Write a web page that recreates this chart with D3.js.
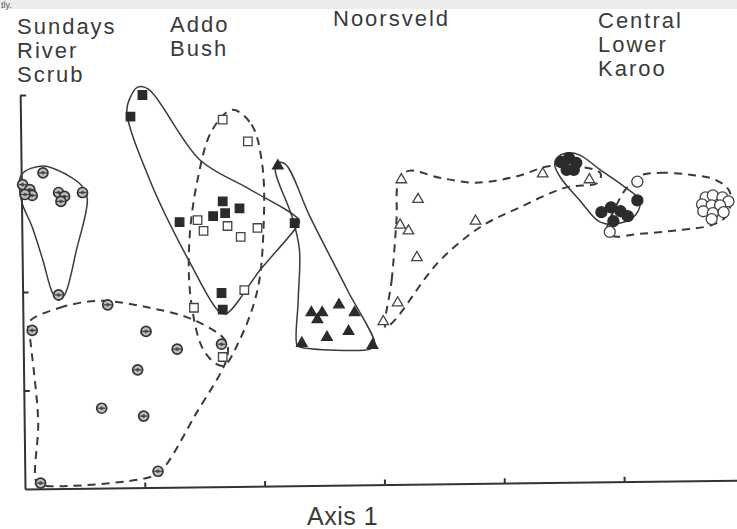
<!DOCTYPE html>
<html>
<head>
<meta charset="utf-8">
<script src="https://cdn.jsdelivr.net/npm/d3@7"></script>
<style>
  body { margin: 0; background: #fff; }
  text { font-family: "Liberation Sans", Arial, sans-serif; fill: #3a3a3a; }
</style>
</head>
<body>
<svg></svg>
<script>
let width = 737;
let height = 529;

// axis ticks, in ordination units
const xTicks = [1, 2, 3, 4, 5];
const yTicks = [1, 2, 3, 4];
const axisTitle = "Axis 1";
const regionNames = [["Sundays", "River", "Scrub"], ["Addo", "Bush"], ["Noorsveld"], ["Central", "Lower", "Karoo"]];

// Sundays River Scrub - solid envelope, hatched circles
const srsTop = [[0.15,3.21],[-0.02,3.09],[0.04,3.04],[0.06,2.98],[0.0,2.99],[0.28,3.01],[0.33,2.97],[0.30,2.92],[0.48,3.01],[0.28,1.97]];
const srsTopEdge = [[-0.03,3.19],[0.15,3.28],[0.35,3.19],[0.48,3.07],[0.52,2.94],[0.43,2.43],[0.33,1.97],[0.28,1.92],[0.23,1.99],[0.15,2.32],[0.06,2.66],[-0.03,2.93]];
// Sundays River Scrub - dashed envelope, hatched circles
const srsLow = [[0.06,1.61],[0.69,1.87],[1.01,1.60],[1.27,1.42],[0.94,1.21],[0.64,0.82],[0.99,0.74],[1.11,0.18],[0.13,0.06],[1.64,1.47]];
const srsLowEdge = [[0.03,1.69],[0.29,1.84],[0.63,1.91],[1.04,1.84],[1.40,1.72],[1.67,1.51],[1.69,1.35],[1.42,0.75],[1.14,0.19],[1.04,0.12],[0.18,0.03],[0.10,0.06],[0.11,0.70],[0.04,1.56]];

// Addo Bush - solid envelope, filled squares
const addoSolid = [[0.98,4.00],[0.88,3.78],[1.29,2.71],[1.57,2.77],[1.65,2.92],[1.67,2.80],[1.79,2.85],[1.64,1.99],[1.65,1.82],[2.25,2.70]];
const addoSolidEdge = [[0.94,4.08],[1.03,4.06],[1.46,3.34],[1.88,3.04],[2.29,2.72],[2.26,2.65],[1.96,2.22],[1.68,1.78],[1.62,1.80],[1.38,2.29],[1.04,3.14],[0.85,3.83],[0.88,3.98]];
// Addo Bush - dashed envelope, open squares
const addoOpen = [[1.65,3.75],[1.86,3.53],[1.44,2.73],[1.49,2.62],[1.69,2.67],[1.80,2.56],[1.94,2.65],[1.83,2.02],[1.41,1.84],[1.65,1.34]];
const addoOpenEdge = [[1.73,3.85],[1.89,3.70],[1.98,3.29],[1.99,2.63],[1.94,2.02],[1.79,1.51],[1.65,1.25],[1.50,1.39],[1.39,1.87],[1.37,2.48],[1.44,3.14],[1.56,3.64]];

// Noorsveld - solid envelope, filled triangles
const noorSolid = [[2.11,3.28],[2.39,1.79],[2.48,1.79],[2.44,1.72],[2.62,1.87],[2.75,1.79],[2.52,1.54],[2.70,1.60],[2.31,1.48],[2.90,1.46]];
const noorSolidEdge = [[2.10,3.31],[2.17,3.30],[2.38,2.76],[2.69,2.02],[2.92,1.46],[2.88,1.42],[2.30,1.44],[2.27,1.46],[2.28,1.92],[2.29,2.43],[2.23,2.76],[2.09,3.22]];
// Noorsveld - dashed envelope, open triangles
const noorOpen = [[3.14,3.14],[3.28,2.94],[3.13,2.68],[3.20,2.62],[3.27,2.35],[3.11,1.89],[2.99,1.70],[3.76,2.72],[4.32,3.20],[4.71,3.14]];
const noorOpenEdge = [[3.01,1.64],[3.06,2.12],[3.10,2.73],[3.12,3.14],[3.20,3.23],[3.46,3.16],[3.76,3.11],[4.09,3.17],[4.40,3.28],[4.80,3.21],[4.78,3.11],[4.51,3.06],[4.13,2.86],[3.80,2.66],[3.44,2.29],[3.09,1.72]];

// Central Lower Karoo - solid envelope, filled circles
const karooSolid = [[4.47,3.32],[4.54,3.36],[4.60,3.31],[4.52,3.24],[4.58,3.24],[4.81,2.81],[4.89,2.86],[4.97,2.82],[5.03,2.77],[4.91,2.72],[5.11,2.93]];
const karooSolidEdge = [[4.44,3.36],[4.52,3.41],[4.63,3.39],[4.80,3.24],[5.00,3.07],[5.13,2.93],[5.10,2.79],[4.97,2.70],[4.80,2.71],[4.63,2.93],[4.47,3.16],[4.42,3.29]];
// Central Lower Karoo - dashed envelope, open circles
const karooOpen = [[5.11,3.12],[4.88,2.61],[5.68,2.96],[5.74,2.98],[5.82,2.96],[5.87,2.92],[5.65,2.89],[5.73,2.88],[5.80,2.88],[5.66,2.82],[5.74,2.80],[5.83,2.81],[5.73,2.74]];
const karooOpenEdge = [[5.13,3.18],[5.30,3.21],[5.55,3.19],[5.76,3.14],[5.88,3.02],[5.86,2.78],[5.73,2.68],[5.47,2.63],[5.13,2.59],[4.90,2.57],[4.86,2.65],[4.92,2.84],[5.01,3.04]];

let svg = d3.select('svg').attr('width', width).attr('height', height);

let xScale = d3.scaleLinear().domain([0, 6]).range([25, 744]);
let yScale = d3.scaleLinear().domain([0, 4]).range([489, 95]);

// scan band at the very top
svg.append('rect').attr('x', 0).attr('y', 0).attr('width', width).attr('height', 9).attr('fill', '#ececec');
svg.append('text').attr('x', 1).attr('y', 8).style('font-size', '9px').style('fill', '#555').text('tly.');

// axes - the scanned page is tilted a little
let axes = svg.append('g').attr('transform', 'rotate(-0.7, 25, 489)');
axes.append('g')
    .attr('transform', 'translate(0, 489)')
    .call(d3.axisBottom(xScale).tickValues(xTicks).tickSize(-5).tickSizeOuter(0).tickFormat(''));
axes.append('g')
    .attr('transform', 'translate(25, 0)')
    .call(d3.axisLeft(yScale).tickValues(yTicks).tickSize(-6).tickSizeOuter(0).tickFormat(''));
axes.selectAll('path, line').attr('stroke', '#333').attr('stroke-width', 2);

let envelope = d3.line()
    .x(d => xScale(d[0]))
    .y(d => yScale(d[1]))
    .curve(d3.curveCatmullRomClosed.alpha(0.5));

const groups = [
    { pts: srsTop, edge: srsTopEdge, dashed: false, sym: 'hatch' },
    { pts: srsLow, edge: srsLowEdge, dashed: true, sym: 'hatch' },
    { pts: addoSolid, edge: addoSolidEdge, dashed: false, sym: 'squareF' },
    { pts: addoOpen, edge: addoOpenEdge, dashed: true, sym: 'squareO' },
    { pts: noorSolid, edge: noorSolidEdge, dashed: false, sym: 'triF' },
    { pts: noorOpen, edge: noorOpenEdge, dashed: true, sym: 'triO' },
    { pts: karooSolid, edge: karooSolidEdge, dashed: false, sym: 'circF' },
    { pts: karooOpen, edge: karooOpenEdge, dashed: true, sym: 'circO' }
];

// envelopes
groups.forEach(g => {
    svg.append('path')
        .attr('d', envelope(g.edge))
        .attr('fill', 'none')
        .attr('stroke', '#3a3a3a')
        .attr('stroke-width', g.dashed ? 2 : 1.5)
        .attr('stroke-dasharray', g.dashed ? '8,6' : null);
});

// points
const symType = { squareF: d3.symbolSquare, squareO: d3.symbolSquare, triF: d3.symbolTriangle, triO: d3.symbolTriangle, circF: d3.symbolCircle, circO: d3.symbolCircle };
groups.forEach(g => {
    let sel = svg.append('g').selectAll('g').data(g.pts).join('g')
        .attr('transform', d => 'translate(' + xScale(d[0]) + ',' + yScale(d[1]) + ')');
    if (g.sym == 'hatch') {
        sel.append('circle').attr('r', 5).attr('fill', '#bdbdbd').attr('stroke', '#333').attr('stroke-width', 1.7);
        sel.append('circle').attr('r', 1.8).attr('fill', '#555');
        sel.append('line').attr('x1', -4).attr('x2', 4).attr('stroke', '#444').attr('stroke-width', 1.2);
    } else {
        let filled = g.sym.endsWith('F');
        let size = g.sym.startsWith('square') ? 72 : g.sym.startsWith('tri') ? 48 : 95;
        sel.append('path')
            .attr('d', d3.symbol().type(symType[g.sym]).size(size))
            .attr('fill', filled ? '#2b2b2b' : '#fff')
            .attr('stroke', filled ? '#2b2b2b' : '#444')
            .attr('stroke-width', 1.3);
    }
});

// region labels
const labelPos = [[17, 34], [170, 32], [333, 26], [598, 28]];
regionNames.forEach((lines, i) => {
    let t = svg.append('text')
        .attr('x', labelPos[i][0]).attr('y', labelPos[i][1])
        .style('font-size', '22px').style('letter-spacing', '2px');
    lines.forEach((s, j) => {
        t.append('tspan').attr('x', labelPos[i][0]).attr('dy', j == 0 ? 0 : 24).text(s);
    });
});

svg.append('text')
    .attr('x', 307).attr('y', 525)
    .style('font-size', '25px').style('letter-spacing', '0.5px')
    .text(axisTitle);
</script>
</body>
</html>
